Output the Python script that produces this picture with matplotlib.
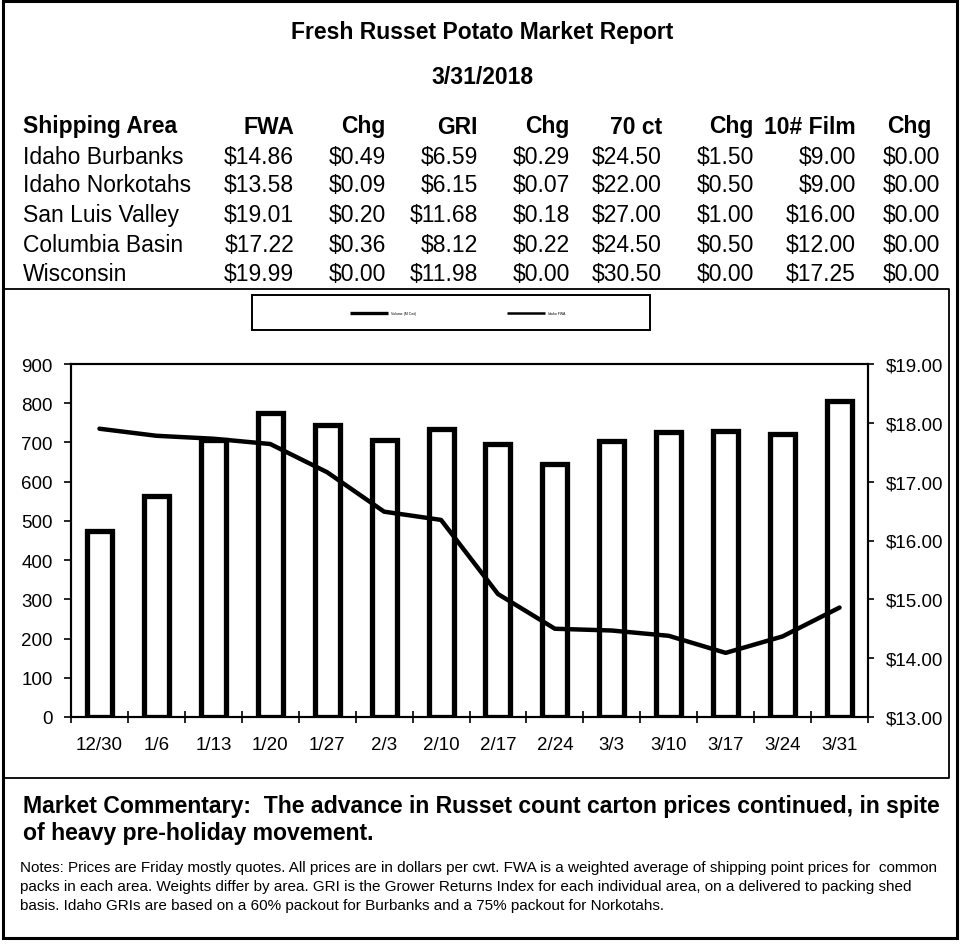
import numpy as np
import matplotlib
matplotlib.use("Agg")
import matplotlib.pyplot as plt
from matplotlib.lines import Line2D
from matplotlib.patches import Rectangle
from matplotlib.ticker import FuncFormatter, MultipleLocator

plt.rcParams['font.family'] = ['Liberation Sans', 'DejaVu Sans']

# Report table
title = "Fresh Russet Potato Market Report"
reportDate = "3/31/2018"
columns = ["Shipping Area", "FWA", "Chg", "GRI", "Chg", "70 ct", "Chg", "10# Film", "Chg"]
areas = ["Idaho Burbanks", "Idaho Norkotahs", "San Luis Valley", "Columbia Basin", "Wisconsin"]
fwa = [14.86, 13.58, 19.01, 17.22, 19.99]
fwaChg = [0.49, 0.09, 0.20, 0.36, 0.00]
gri = [6.59, 6.15, 11.68, 8.12, 11.98]
griChg = [0.29, 0.07, 0.18, 0.22, 0.00]
ct70 = [24.50, 22.00, 27.00, 24.50, 30.50]
ct70Chg = [1.50, 0.50, 1.00, 0.50, 0.00]
film10 = [9.00, 9.00, 16.00, 12.00, 17.25]
film10Chg = [0.00, 0.00, 0.00, 0.00, 0.00]

# Weekly chart data
weeks = ["12/30", "1/6", "1/13", "1/20", "1/27", "2/3", "2/10", "2/17", "2/24", "3/3", "3/10", "3/17", "3/24", "3/31"]
volume = [475, 564, 706, 774, 745, 707, 734, 696, 645, 704, 726, 730, 721, 805]
price = [17.90, 17.78, 17.73, 17.64, 17.16, 16.49, 16.35, 15.09, 14.50, 14.47, 14.38, 14.09, 14.37, 14.86]
legendLabels = ["Volume (M Cwt)", "Idaho FWA"]

commentary = ["Market Commentary:  The advance in Russet count carton prices continued, in spite",
              "of heavy pre-holiday movement."]
notes = ["Notes: Prices are Friday mostly quotes. All prices are in dollars per cwt. FWA is a weighted average of shipping point prices for  common",
         "packs in each area. Weights differ by area. GRI is the Grower Returns Index for each individual area, on a delivered to packing shed",
         "basis. Idaho GRIs are based on a 60% packout for Burbanks and a 75% packout for Norkotahs."]

W, H = 962, 945
fx = lambda x: x/W
fy = lambda y: 1 - y/H

fig = plt.figure(figsize=(W/100, H/100), dpi=100)

def figLine(xs, ys, lw):
    fig.add_artist(Line2D([fx(x) for x in xs], [fy(y) for y in ys], color='black', lw=lw,
                          transform=fig.transFigure, solid_capstyle='butt'))

# frames
fig.add_artist(Rectangle((fx(3), fy(939)), fx(957)-fx(3), fy(2)-fy(939), fill=False,
                         edgecolor='black', lw=2.2, transform=fig.transFigure))
figLine([3, 949, 949, 3], [290, 290, 779, 779], 1.3)
fig.add_artist(Rectangle((fx(252), fy(331)), fx(650)-fx(252), fy(296)-fy(331), fill=False,
                         edgecolor='black', lw=1.4, transform=fig.transFigure))

# title and table
fig.text(fx(482), fy(32), title, ha='center', va='center', fontsize=16.5, fontweight='bold')
fig.text(fx(482), fy(77), reportDate, ha='center', va='center', fontsize=16.5, fontweight='bold')

colRight = [23, 294, 386, 478, 570, 662, 754, 856, 932]
rowY = [157, 186, 216, 245, 275]
for i, c in enumerate(columns):
    if i == 0:
        fig.text(fx(23), fy(127), c, ha='left', va='center', fontsize=16.5, fontweight='bold')
    else:
        fig.text(fx(colRight[i]), fy(127), c, ha='right', va='center', fontsize=16.5, fontweight='bold')

valueCols = [fwa, fwaChg, gri, griChg, ct70, ct70Chg, film10, film10Chg]
valueRight = [294, 386, 478, 570, 662, 754, 856, 940]
for r, area in enumerate(areas):
    fig.text(fx(23), fy(rowY[r]), area, ha='left', va='center', fontsize=16.5)
    for vals, xr in zip(valueCols, valueRight):
        fig.text(fx(xr), fy(rowY[r]), "${:.2f}".format(vals[r]), ha='right', va='center', fontsize=16.5)

# legend (tiny, as in the report)
figLine([350, 388], [314, 314], 2.4)
fig.text(fx(391), fy(314), legendLabels[0], ha='left', va='center', fontsize=2.5)
figLine([507, 545], [314, 314], 1.8)
fig.text(fx(548), fy(314), legendLabels[1], ha='left', va='center', fontsize=2.5)

# chart
ax = fig.add_axes([fx(71), fy(718), fx(868)-fx(71), fy(365)-fy(718)])
x = np.arange(len(weeks))
ax.bar(x, volume, width=0.44, facecolor='white', edgecolor='black', linewidth=3.8, zorder=2)
ax.set_xlim(-0.5, len(weeks)-0.5)
ax.set_ylim(0, 900)
ax.yaxis.set_major_locator(MultipleLocator(100))
ax.set_xticks(x)
ax.set_xticklabels(weeks)
ax.set_xticks(np.arange(len(weeks)+1)-0.5, minor=True)
ax.tick_params(axis='x', which='major', length=0, pad=14, labelsize=13.5)
ax.tick_params(axis='x', which='minor', direction='inout', length=8, width=1.2)
ax.tick_params(axis='y', direction='out', length=5, width=1.2, pad=8, labelsize=13.5)
for s in ax.spines.values():
    s.set_linewidth(1.5)

ax2 = ax.twinx()
ax2.plot(x, price, color='black', lw=3.2, solid_capstyle='round', zorder=3)
ax2.set_ylim(13, 19)
ax2.yaxis.set_major_locator(MultipleLocator(1))
ax2.yaxis.set_major_formatter(FuncFormatter(lambda v, p: "${:.2f}".format(v)))
ax2.tick_params(axis='y', direction='out', length=4, width=1.2, pad=9, labelsize=13.5)
for s in ax2.spines.values():
    s.set_linewidth(1.5)

# commentary and notes
for i, line in enumerate(commentary):
    fig.text(fx(23), fy(806 + 28*i), line, ha='left', va='center', fontsize=16.6, fontweight='bold')
for i, line in enumerate(notes):
    fig.text(fx(20), fy(868 + 19*i), line, ha='left', va='center', fontsize=11.0)

fig.savefig("out.png", dpi=100)
